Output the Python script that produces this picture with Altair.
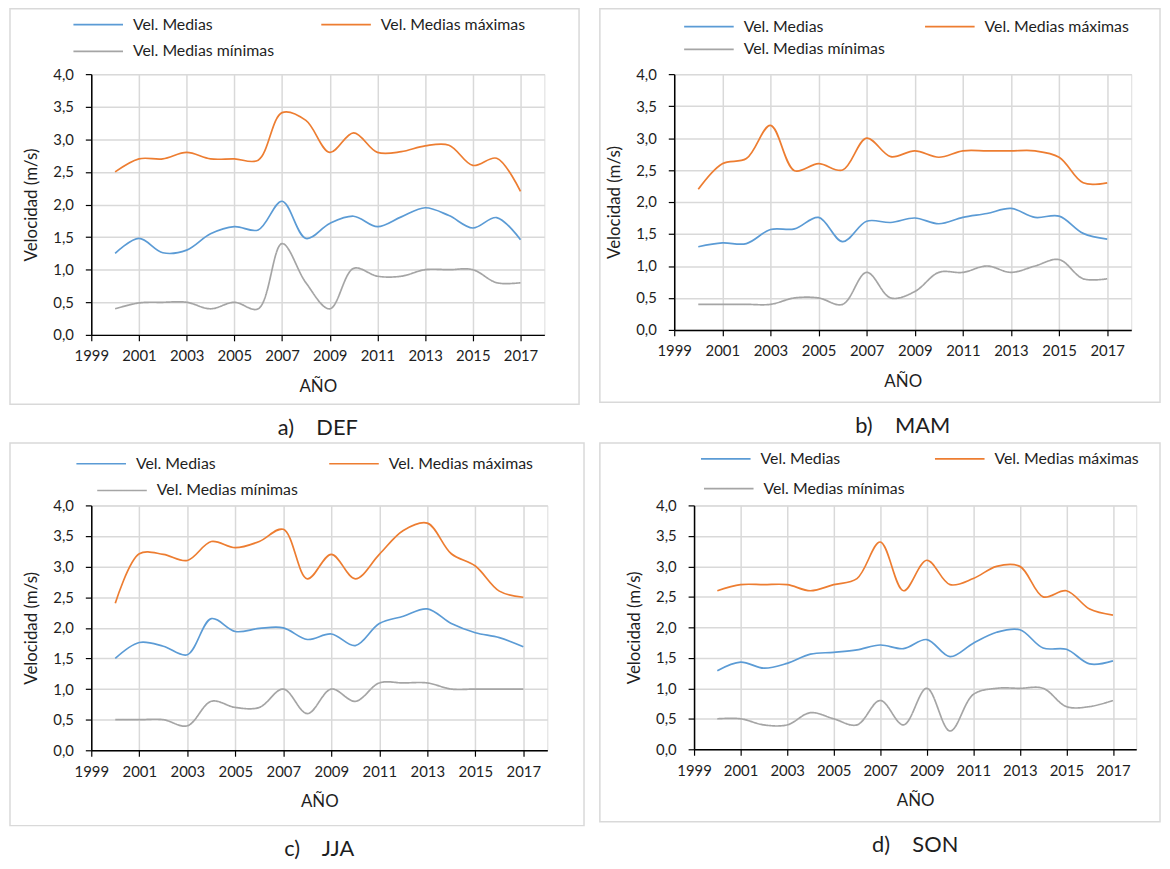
import altair as alt
import pandas as pd

years = list(range(2000, 2018))
series_names = ["Vel. Medias", "Vel. Medias máximas", "Vel. Medias mínimas"]
series_colors = ["#5B9BD5", "#ED7D31", "#A5A5A5"]
x_ticks = list(range(1999, 2018, 2))
y_ticks = [0, 0.5, 1, 1.5, 2, 2.5, 3, 3.5, 4]

# a) DEF
def_med = [1.25, 1.48, 1.26, 1.3, 1.55, 1.66, 1.61, 2.05, 1.48, 1.71, 1.82, 1.66, 1.81, 1.95, 1.83, 1.64, 1.8, 1.46]
def_max = [2.5, 2.7, 2.7, 2.8, 2.7, 2.7, 2.68, 3.41, 3.29, 2.8, 3.1, 2.8, 2.81, 2.9, 2.91, 2.6, 2.71, 2.2]
def_min = [0.4, 0.49, 0.5, 0.5, 0.4, 0.5, 0.4, 1.4, 0.8, 0.4, 1.02, 0.9, 0.9, 1.0, 1.0, 1.0, 0.8, 0.8]
# b) MAM
mam_med = [1.3, 1.36, 1.35, 1.57, 1.58, 1.76, 1.38, 1.7, 1.68, 1.75, 1.66, 1.76, 1.82, 1.9, 1.76, 1.78, 1.51, 1.42]
mam_max = [2.2, 2.6, 2.68, 3.2, 2.49, 2.6, 2.5, 3.0, 2.71, 2.8, 2.7, 2.8, 2.8, 2.8, 2.8, 2.7, 2.3, 2.3]
mam_min = [0.4, 0.4, 0.4, 0.4, 0.5, 0.5, 0.4, 0.9, 0.5, 0.6, 0.9, 0.9, 1.0, 0.9, 1.0, 1.1, 0.8, 0.8]
# c) JJA
jja_med = [1.5, 1.76, 1.7, 1.56, 2.15, 1.94, 1.99, 2.0, 1.81, 1.9, 1.71, 2.07, 2.19, 2.31, 2.07, 1.92, 1.84, 1.69]
jja_max = [2.4, 3.21, 3.2, 3.1, 3.41, 3.31, 3.41, 3.61, 2.8, 3.2, 2.8, 3.2, 3.59, 3.71, 3.21, 3.01, 2.6, 2.5]
jja_min = [0.5, 0.5, 0.5, 0.4, 0.8, 0.7, 0.7, 1.0, 0.6, 1.0, 0.8, 1.1, 1.1, 1.1, 1.0, 1.0, 1.0, 1.0]
# d) SON
son_med = [1.29, 1.43, 1.33, 1.41, 1.56, 1.59, 1.63, 1.71, 1.65, 1.8, 1.52, 1.74, 1.92, 1.96, 1.66, 1.64, 1.4, 1.45]
son_max = [2.6, 2.7, 2.7, 2.7, 2.6, 2.7, 2.8, 3.4, 2.6, 3.1, 2.7, 2.8, 3.0, 3.0, 2.5, 2.6, 2.3, 2.2]
son_min = [0.5, 0.5, 0.4, 0.4, 0.6, 0.5, 0.4, 0.8, 0.4, 1.0, 0.3, 0.9, 1.0, 1.0, 1.0, 0.7, 0.7, 0.8]

captions = ["a)\u00a0\u00a0\u00a0\u00a0DEF", "b)\u00a0\u00a0\u00a0\u00a0MAM",
            "c)\u00a0\u00a0\u00a0\u00a0JJA", "d)\u00a0\u00a0\u00a0\u00a0SON"]

FONT = "Lato"
TXT = "#1e1e1e"

X_AXIS = alt.Axis(values=x_ticks, format="d", title="AÑO",
                  titleFont=FONT, titleFontSize=17, titleFontWeight="normal",
                  titleColor=TXT, titleY=52, titleBaseline="middle",
                  labelFont=FONT, labelFontSize=15, labelColor=TXT,
                  labelPadding=8, labelFlush=False, labelOverlap=False,
                  tickSize=6, tickColor="black", tickWidth=1.2,
                  domainColor="black", domainWidth=1.5,
                  gridColor="#D9D9D9", gridWidth=1.5)
Y_AXIS = alt.Axis(values=y_ticks,
                  labelExpr="replace(format(datum.value, '.1f'), '.', ',')",
                  title="Velocidad (m/s)",
                  titleFont=FONT, titleFontSize=17, titleFontWeight="normal",
                  titleColor=TXT, titleX=-60, titleBaseline="middle",
                  labelFont=FONT, labelFontSize=15, labelColor=TXT,
                  labelPadding=12, labelOverlap=False,
                  tickSize=6, tickColor="black", tickWidth=1.2,
                  domainColor="black", domainWidth=1.5,
                  gridColor="#D9D9D9", gridWidth=1.5)


def legend_params(lx, ly, col_pad=0, stroke_color=None):
    p = dict(title=None, orient="none", direction="horizontal",
             legendX=lx, legendY=ly, columns=2, columnPadding=col_pad, padding=0,
             symbolType="M-5,0H5", symbolSize=100, symbolStrokeWidth=1.7,
             symbolOffset=20, labelOffset=27, labelFont=FONT, labelFontSize=16,
             labelColor=TXT, labelLimit=400)
    if stroke_color:
        p["symbolStrokeColor"] = stroke_color
    return alt.Legend(**p)


def panel(med, mx, mn, caption, w, h, frame, leg1, leg2):
    df_main = pd.DataFrame({
        "year": years * 2,
        "value": med + mx,
        "serie": [series_names[0]] * len(years) + [series_names[1]] * len(years),
    })
    df_min = pd.DataFrame({"year": years, "value": mn,
                           "serie": [series_names[2]] * len(years)})
    fx1, fy1, fx2, fy2 = frame
    box = alt.Chart(pd.DataFrame({"k": [0]})).mark_rect(
        filled=False, stroke="#D9D9D9", strokeWidth=1.5
    ).encode(x=alt.value(fx1), x2=alt.value(fx2), y=alt.value(fy1), y2=alt.value(fy2))

    x_enc = alt.X("year:Q", scale=alt.Scale(domain=[1999, 2018], nice=False, zero=False),
                  axis=X_AXIS)
    y_enc = alt.Y("value:Q", scale=alt.Scale(domain=[0, 4], nice=False, zero=True),
                  axis=Y_AXIS)

    main = alt.Chart(df_main).mark_line(interpolate="catmull-rom", strokeWidth=1.7).encode(
        x=x_enc, y=y_enc,
        color=alt.Color("serie:N",
                        scale=alt.Scale(domain=series_names[:2], range=series_colors[:2]),
                        legend=legend_params(leg1[0], leg1[1], leg1[2])),
    )
    low = alt.Chart(df_min).mark_line(interpolate="catmull-rom", strokeWidth=1.7,
                                      color=series_colors[2]).encode(
        x=x_enc, y=y_enc,
        strokeDash=alt.StrokeDash("serie:N",
                                  scale=alt.Scale(domain=series_names[2:], range=[[1, 0]]),
                                  legend=legend_params(leg2[0], leg2[1],
                                                       stroke_color=series_colors[2])),
    )
    return alt.layer(box, low, main).properties(
        width=w, height=h,
        title=alt.TitleParams(caption, orient="bottom", anchor="middle", frame="group",
                              offset=13, baseline="top", font=FONT, fontSize=22,
                              fontWeight="normal", color=TXT),
    )


pa = panel(def_med, def_max, def_min, captions[0], 457, 263, (-82, -66, 492, 333),
           (-21, -58, 105), (-21, -31))
pb = panel(mam_med, mam_max, mam_min, captions[1], 461, 258, (-75, -66, 490, 331),
           (7, -56, 98), (7, -33))
pc = panel(jja_med, jja_max, jja_min, captions[2], 460, 247, (-82, -63, 497, 323),
           (-18, -50, 110), (3, -23))
pd_ = panel(son_med, son_max, son_min, captions[3], 446, 246, (-95, -63, 470, 319),
            (4, -55, 91), (7, -25))

row1 = alt.hconcat(pa, pb, spacing=131, bounds="flush").resolve_scale(
    color="independent", strokeDash="independent")
row2 = alt.hconcat(pc, pd_, spacing=148, bounds="flush").resolve_scale(
    color="independent", strokeDash="independent")

chart = alt.vconcat(row1, row2, spacing=435, bounds="flush").resolve_scale(
    color="independent", strokeDash="independent"
).properties(
    padding={"left": 0, "top": -5, "right": 0, "bottom": 0}
).configure_view(stroke="black", strokeWidth=1.5).configure(background="white")

chart.save("out.html", embed_options={"renderer": "svg", "actions": False})
